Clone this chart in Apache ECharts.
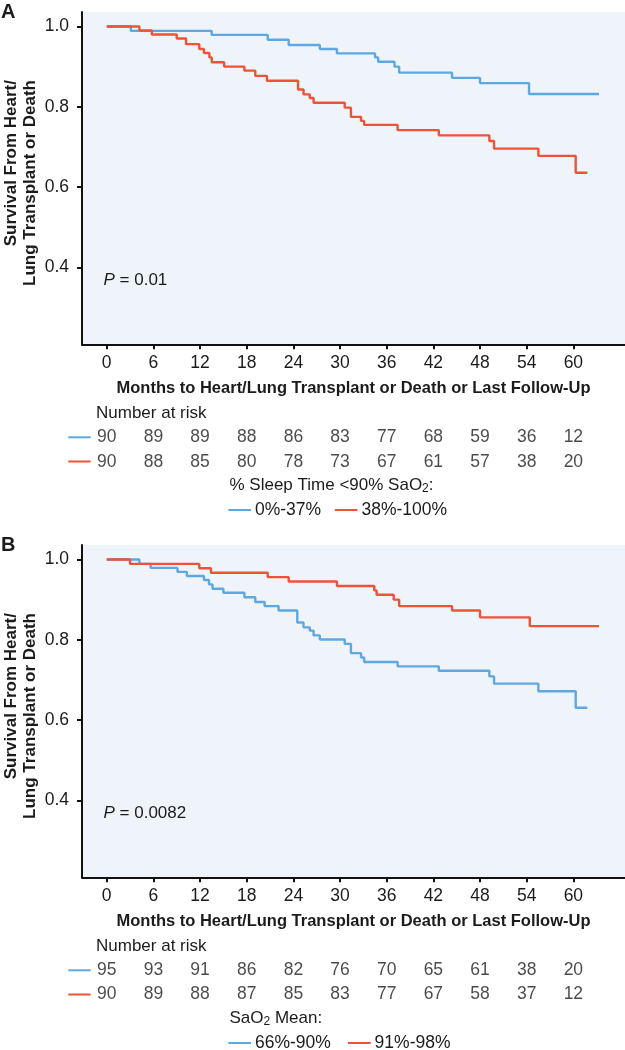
<!DOCTYPE html>
<html>
<head>
<meta charset="utf-8">
<script src="https://cdn.jsdelivr.net/npm/echarts@6/dist/echarts.min.js"></script>
<style>
html,body{margin:0;padding:0;background:#fff;}
#chart{width:625px;height:1050px;}
</style>
</head>
<body>
<div id="chart"></div>
<script>
// ---------- data ----------
const tickMonths = [0, 6, 12, 18, 24, 30, 36, 42, 48, 54, 60];
const yTicks = [0.4, 0.6, 0.8, 1.0];

// Panel A: % sleep time <90% SaO2
const aBlueName = '0%-37%';
const aBlueT = [0, 3.1, 13.5, 20.7, 23.4, 27.4, 29.6, 34.5, 34.9, 37.0, 37.6, 44.4, 48.0, 54.3, 63.3];
const aBlueS = [1, 0.989, 0.979, 0.967, 0.954, 0.944, 0.933, 0.923, 0.912, 0.900, 0.885, 0.872, 0.859, 0.832, 0.832];
const aRedName = '38%-100%';
const aRedT = [0, 4.2, 5.8, 9.0, 10.2, 11.9, 12.5, 13.2, 13.5, 15.1, 17.7, 19.1, 20.6, 24.6, 25.3, 26.1, 26.6, 30.6, 31.4, 32.7, 33.1, 37.4, 42.7, 49.2, 49.8, 55.5, 60.3, 61.8];
const aRedS = [1, 0.990, 0.980, 0.970, 0.956, 0.944, 0.934, 0.923, 0.911, 0.900, 0.890, 0.877, 0.865, 0.843, 0.831, 0.822, 0.810, 0.798, 0.775, 0.765, 0.755, 0.742, 0.729, 0.715, 0.696, 0.678, 0.636, 0.636];
const aRiskBlue = [90, 89, 89, 88, 86, 83, 77, 68, 59, 36, 12];
const aRiskRed = [90, 88, 85, 80, 78, 73, 67, 61, 57, 38, 20];

// Panel B: SaO2 mean
const bBlueName = '66%-90%';
const bBlueT = [0, 4.2, 5.65, 9.1, 10.3, 12.5, 13.15, 13.6, 15.0, 17.7, 19.1, 20.3, 22.1, 24.5, 25.3, 26.1, 26.6, 27.4, 30.6, 31.4, 32.7, 33.1, 37.4, 42.7, 49.2, 49.8, 55.5, 60.3, 61.8];
const bBlueS = [1, 0.989, 0.979, 0.969, 0.959, 0.949, 0.938, 0.927, 0.917, 0.906, 0.894, 0.884, 0.873, 0.843, 0.831, 0.823, 0.811, 0.801, 0.790, 0.767, 0.756, 0.745, 0.734, 0.723, 0.709, 0.691, 0.672, 0.631, 0.631];
const bRedName = '91%-98%';
const bRedT = [0, 3.0, 11.9, 13.4, 20.7, 23.4, 29.6, 34.4, 34.7, 36.9, 37.6, 44.4, 48.0, 54.4, 63.3];
const bRedS = [1, 0.989, 0.978, 0.967, 0.956, 0.945, 0.934, 0.923, 0.912, 0.900, 0.884, 0.873, 0.856, 0.834, 0.834];
const bRiskBlue = [95, 93, 91, 86, 82, 76, 70, 65, 61, 38, 20];
const bRiskRed = [90, 89, 88, 87, 85, 83, 77, 67, 58, 37, 12];

const xTitle = 'Months to Heart/Lung Transplant or Death or Last Follow-Up';
const yTitle1 = 'Survival From Heart/';
const yTitle2 = 'Lung Transplant or Death';

// ---------- styling ----------
const FONT = "'Liberation Sans', Arial, sans-serif";
const BLUE = '#5ea8e2';
const RED = '#ee5237';
const INK = '#1b1b1b';
const BG = '#eff4fb';

const chart = echarts.init(document.getElementById('chart'), null, {renderer: 'canvas'});

function pairs(t, s) { return t.map((v, i) => [v, s[i]]); }
function riskData(arr, row) { return tickMonths.map((m, i) => [m, row, arr[i]]); }

const XMIN = -3.18, XMAX = 66.64;
const YMIN = 0.209, YMAX = 1.036;

function plotX(gi) {
  return {
    type: 'value', gridIndex: gi, min: XMIN, max: XMAX,
    axisLine: {show: true, onZero: false, lineStyle: {color: '#111', width: 2}},
    axisTick: {show: true, length: 5, customValues: tickMonths, lineStyle: {color: '#111', width: 2}},
    axisLabel: {show: true, customValues: tickMonths, fontSize: 17.5, color: INK, fontFamily: FONT, margin: 10},
    splitLine: {show: false},
    name: xTitle, nameLocation: 'middle', nameGap: 36,
    nameTextStyle: {fontSize: 16.5, fontWeight: 'bold', color: INK, fontFamily: FONT}
  };
}
function plotY(gi) {
  return {
    type: 'value', gridIndex: gi, min: YMIN, max: YMAX,
    axisLine: {show: true, onZero: false, lineStyle: {color: '#111', width: 2}},
    axisTick: {show: true, length: 5, customValues: yTicks, lineStyle: {color: '#111', width: 2}},
    axisLabel: {show: true, customValues: yTicks, formatter: v => v.toFixed(1), fontSize: 17.5, color: INK, fontFamily: FONT, margin: 13},
    splitLine: {show: false}
  };
}
function hiddenX(gi) {
  return {type: 'value', gridIndex: gi, min: XMIN, max: XMAX, show: false};
}
function hiddenY(gi) {
  return {type: 'category', gridIndex: gi, data: [0, 1], inverse: true, show: false};
}
function kmSeries(xi, t, s, color, name) {
  return {
    type: 'line', name: name, xAxisIndex: xi, yAxisIndex: xi, step: 'end',
    data: pairs(t, s), symbol: 'none', lineStyle: {color: color, width: 2.4},
    itemStyle: {color: color}, silent: true, animation: false, z: 3
  };
}
function riskSeries(xi, arr, row) {
  return {
    type: 'scatter', xAxisIndex: xi, yAxisIndex: xi, data: riskData(arr, row),
    symbolSize: 1, itemStyle: {color: 'rgba(0,0,0,0)'}, animation: false, silent: true,
    label: {show: true, position: 'inside', formatter: p => String(p.value[2]), fontSize: 17.5, color: INK, fontFamily: FONT}
  };
}

function txt(x, y, text, opts) {
  opts = opts || {};
  return {
    type: 'text', x: x, y: y, rotation: opts.rotation || 0, z: 10,
    style: Object.assign({
      text: text, fill: INK, fontFamily: FONT, fontSize: opts.size || 17,
      fontWeight: opts.weight || 'normal', align: opts.align || 'left', verticalAlign: 'middle'
    }, opts.style || {})
  };
}
function seg(x1, x2, y, color) {
  return {type: 'line', z: 10, shape: {x1: x1, y1: y, x2: x2, y2: y}, style: {stroke: color, lineWidth: 2}};
}
const subRich = {s: {fontSize: 12, fontFamily: FONT, fill: INK, padding: [8, 0, 0, 0]}};

function panelGraphics(dy, label, pText, legendTitle, nameBlue, nameRed, redLineX, redTextX) {
  const g = [];
  g.push(txt(1, 12.5 + dy, label, {size: 20, weight: 'bold'}));
  g.push(txt(11.7, 80 + dy, yTitle1, {size: 17, weight: 'bold', align: 'right', rotation: Math.PI / 2}));
  g.push(txt(30, 80 + dy, yTitle2, {size: 17, weight: 'bold', align: 'right', rotation: Math.PI / 2}));
  g.push(txt(103.5, 280.7 + dy, '{i|P} = ' + pText, {style: {rich: {i: {fontStyle: 'italic', fontSize: 17, fontFamily: FONT, fill: INK}}}}));
  g.push(txt(96, 413.3 + dy, 'Number at risk'));
  g.push(seg(68.3, 90.7, 437.3 + dy, BLUE));
  g.push(seg(68.3, 90.7, 461.5 + dy, RED));
  g.push(txt(229.5, 485 + dy, legendTitle, {style: {rich: subRich}}));
  g.push(seg(228.4, 251, 510 + dy, BLUE));
  g.push(txt(255, 510 + dy, nameBlue, {size: 17.5}));
  g.push(seg(redLineX, redLineX + 22.7, 510 + dy, RED));
  g.push(txt(redTextX, 510 + dy, nameRed, {size: 17.5}));
  return g;
}

const DY = 533; // panel B offset

const option = {
  backgroundColor: '#fff',
  animation: false,
  textStyle: {fontFamily: FONT},
  grid: [
    {left: 82, top: 12, width: 543, height: 332.3, show: true, backgroundColor: BG, borderWidth: 0},
    {left: 82, top: 425.1, width: 543, height: 48.8, show: false},
    {left: 82, top: 12 + DY, width: 543, height: 332.3, show: true, backgroundColor: BG, borderWidth: 0},
    {left: 82, top: 425.1 + 532.9, width: 543, height: 48.8, show: false}
  ],
  xAxis: [plotX(0), hiddenX(1), plotX(2), hiddenX(3)],
  yAxis: [plotY(0), hiddenY(1), plotY(2), hiddenY(3)],
  series: [
    kmSeries(0, aBlueT, aBlueS, BLUE, aBlueName),
    kmSeries(0, aRedT, aRedS, RED, aRedName),
    riskSeries(1, aRiskBlue, 0),
    riskSeries(1, aRiskRed, 1),
    kmSeries(2, bBlueT, bBlueS, BLUE, bBlueName),
    kmSeries(2, bRedT, bRedS, RED, bRedName),
    riskSeries(3, bRiskBlue, 0),
    riskSeries(3, bRiskRed, 1)
  ],
  graphic: [].concat(
    panelGraphics(0, 'A', '0.01', '% Sleep Time <90% SaO{s|2}:', aBlueName, aRedName, 334.8, 361.5),
    panelGraphics(DY, 'B', '0.0082', 'SaO{s|2} Mean:', bBlueName, bRedName, 348, 374.6)
  )
};
chart.setOption(option);
</script>
</body>
</html>
